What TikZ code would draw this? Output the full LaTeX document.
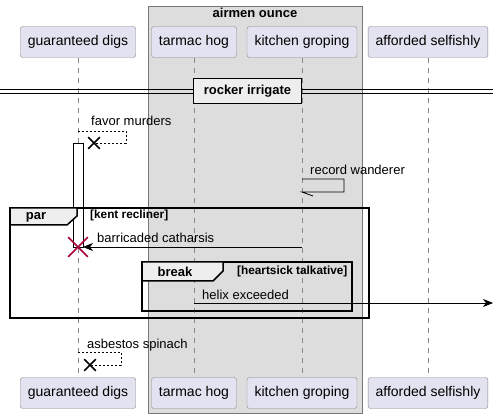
\documentclass[tikz,border=0pt]{standalone}
\usepackage{fontspec}
\setmainfont{Liberation Sans}
\usetikzlibrary{arrows.meta,shapes.misc}

\begin{document}
\begin{tikzpicture}[x=1pt,y=-1pt,
  actor/.style={draw=actorline,fill=actorfill,rounded corners=2.5pt,minimum height=31pt,inner xsep=7.5pt,font=\fontsize{14}{16}\selectfont},
  lifeline/.style={draw=lifegray,dash pattern=on 5pt off 5pt},
  msg/.style={anchor=base west,inner sep=0pt,font=\fontsize{13}{15}\selectfont},
  cond/.style={anchor=base west,inner sep=0pt,font=\bfseries\fontsize{11.8}{13}\selectfont},
  fr/.style={line width=1.5pt},
  call/.style={line width=0.8pt,-{Stealth[length=10pt,width=8pt,inset=3pt]}},
  reply/.style={line width=0.8pt,dash pattern=on 2pt off 2pt},
  kill/.style={cross out,draw,line width=1.6pt,minimum size=10pt,inner sep=0pt}]
\definecolor{actorfill}{HTML}{E2E2F0}
\definecolor{actorline}{HTML}{888888}
\definecolor{lifegray}{HTML}{888888}
\definecolor{boxfill}{HTML}{DDDDDD}
\definecolor{boxline}{HTML}{777777}
\definecolor{tabfill}{HTML}{EEEEEE}
\definecolor{killred}{HTML}{A80036}
\useasboundingbox (0,0) rectangle (500,419);
% the box round two participants
\draw[fill=boxfill,draw=boxline] (148,6) rectangle (362,413);
\node[anchor=base,inner sep=0pt,font=\bfseries\fontsize{13}{15}\selectfont] (grp) at (255,18) {airmen ounce};
% participants and lifelines
\foreach \name/\pos/\txt in {gd/78/guaranteed digs,th/194/tarmac hog,kg/302/kitchen groping,as/428/afforded selfishly}
{ \node[actor] (\name-top) at (\pos,42) {\txt};
  \node[actor] (\name-bot) at (\pos,393) {\txt};
  \draw[lifeline] (\name-top) -- (\name-bot);}
% divider
\coordinate (divL1) at (0,89.5); \coordinate (divR1) at (493,89.5);
\coordinate (divL2) at (0,93); \coordinate (divR2) at (493,93);
\draw[line width=0.9pt] (divL1) -- (divR1) (divL2) -- (divR2);
\node[draw,line width=1.5pt,fill=tabfill,minimum width=108pt,minimum height=25pt,font=\bfseries\fontsize{13}{15}\selectfont] (div) at (247.5,91) {rocker irrigate};
% favor murders
\node[msg] (fm) at (91,126) {favor murders};
\coordinate (fmA) at (78,131); \coordinate (fmB) at (126,131);
\coordinate (fmC) at (126,143); \coordinate (fmX) at (94,143);
\draw[reply] (fmA) -- (fmB) -- (fmC) -- (fmX);
\node[kill] (fmK) at (fmX) {};
% activation
\node[draw,fill=white,minimum width=10pt,minimum height=104pt,inner sep=0pt] (act) at (78,195) {};
% record wanderer
\node[msg] (rw) at (310,175) {record wanderer};
\coordinate (rwA) at (302,179); \coordinate (rwB) at (344,179);
\coordinate (rwC) at (344,192); \coordinate (rwD) at (302,192);
\coordinate (rwT) at (313,196);
\draw[line width=0.8pt] (rwA) -- (rwB) -- (rwC) -- (rwD) -- (rwT);
% par
\draw[fr] (10,208) rectangle (369,318);
\draw[fr,fill=tabfill] (10,208) -- (77,208) -- (77,216) -- (67,225) -- (10,225) -- cycle;
\node[anchor=base,inner sep=0pt,font=\bfseries\fontsize{13}{15}\selectfont] (par) at (36,220) {par};
\node[cond] (parc) at (90,219) {[kent recliner]};
\node[msg] (bc) at (97,243) {barricaded catharsis};
\coordinate (bcA) at (302,247); \coordinate (bcB) at (83,247);
\draw[call] (bcA) -- (bcB);
\node[kill,draw=killred,minimum size=18pt] (gdK) at (78,247) {};
% break
\draw[fr] (142,262) rectangle (352,311);
\draw[fr,fill=tabfill] (142,262) -- (223,262) -- (223,271) -- (213,281) -- (142,281) -- cycle;
\node[anchor=base,inner sep=0pt,font=\bfseries\fontsize{13}{15}\selectfont] (brk) at (175,277) {break};
\node[cond] (brkc) at (237,275) {[heartsick talkative]};
\node[msg] (he) at (202,299) {helix exceeded};
\coordinate (heA) at (194,303); \coordinate (heB) at (493,303);
\draw[call] (heA) -- (heB);
% asbestos spinach
\node[msg] (asp) at (87,348) {asbestos spinach};
\coordinate (aspA) at (78,352); \coordinate (aspB) at (121,352);
\coordinate (aspC) at (121,365); \coordinate (aspX) at (90,365);
\draw[reply] (aspA) -- (aspB) -- (aspC) -- (aspX);
\node[kill] (aspK) at (aspX) {};
\end{tikzpicture}
\end{document}
